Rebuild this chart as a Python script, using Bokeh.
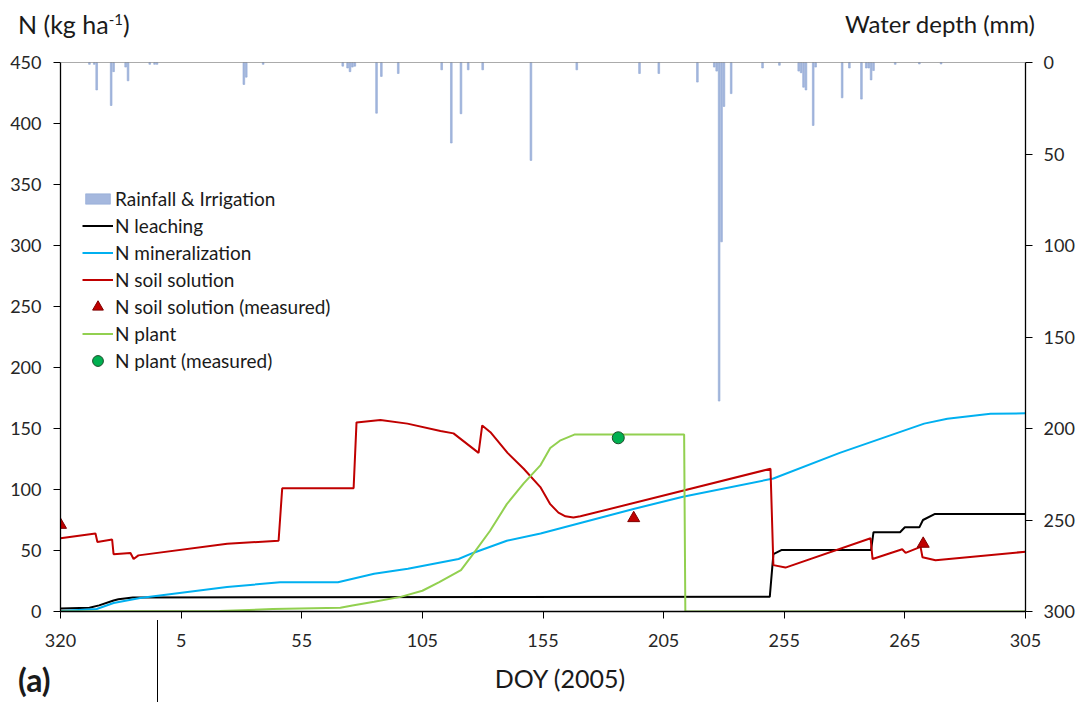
from bokeh.plotting import figure
from bokeh.layouts import column
from bokeh.models import Range1d, LinearAxis, FixedTicker, Legend, LegendItem, Span, Div
from bokeh.embed import file_html
from bokeh.resources import INLINE

FONT = "Lato"

# x axis: day index counted from DOY 320 (2004)
tick_pos = [0, 50, 100, 150, 200, 250, 300, 350, 400]
tick_labels = ["320", "5", "55", "105", "155", "205", "255", "265", "305"]
n_ticks = [0, 50, 100, 150, 200, 250, 300, 350, 400, 450]
depth_ticks = [0, 50, 100, 150, 200, 250, 300]

# Rainfall & Irrigation (mm)
rain_day = [12, 14, 15, 21, 22, 27, 28, 37, 39, 40, 76, 77, 84, 117, 119, 120, 121, 122,
            131, 133, 140, 158, 162, 166, 169, 175, 195, 214, 240, 248, 264, 271, 272,
            273, 274, 275, 278, 291, 298, 306, 307, 308, 309, 312, 313, 324, 327, 332,
            334, 335, 336, 337, 346, 356, 365]
rain_mm = [1, 1, 15, 23.5, 5, 2.5, 10, 1, 1, 1, 12, 8, 1, 2, 3, 5, 2.5, 2,
           27.7, 7.6, 6, 4, 44, 28, 4, 4, 53.5, 4, 6, 6, 10.7, 2.5, 4.7,
           185, 98, 24, 17, 3, 1.5, 4.7, 5.6, 13.5, 15, 34.4, 2.5, 19.3, 3, 20,
           3, 3, 9.5, 4.4, 1, 0.8, 0.8]

# N leaching
leach_day = [0, 12, 16, 22, 24, 30, 294, 295.5, 299, 336, 337, 348, 350, 356, 357.5, 362.5, 400]
leach_n = [2.5, 3, 5, 9, 10, 11.5, 12, 47, 50.5, 50.5, 65, 65, 69, 69, 75, 80, 80]

# N mineralization
mineral_day = [0, 15, 22, 33, 69, 91, 115, 130, 144, 165, 171, 185, 199, 237.5, 258, 295.5,
               323, 358, 367.6, 385.5, 400]
mineral_n = [0.5, 2, 7, 11, 20, 24, 24, 31, 35, 43, 48, 58, 64, 84, 94, 109,
             130, 154, 158, 162, 162.5]

# N soil solution
soil_day = [0, 14.5, 15.3, 21.4, 22, 29, 30.3, 32.3, 69.1, 90.4, 91.9, 121.5, 122.7, 132.6,
            143.8, 157.5, 162.9, 173.3, 174.8, 178.2, 185.3, 192, 198.9, 203, 206.4, 209.3,
            212.6, 215.5, 294.3, 295.5, 300.5, 335.8, 336.6, 348.9, 350.3, 356.5, 357.3,
            362.7, 400]
soil_n = [60, 64, 57, 59, 47, 48, 43, 46, 55.5, 58, 101, 101, 155, 157,
          154, 148, 146, 130, 152.5, 147, 130, 117, 102, 88, 81, 78,
          77, 78, 117, 38, 36, 60, 43, 51, 48, 53, 44.5,
          42, 49]
soil_meas_day = [0, 237.6, 357.6]
soil_meas_n = [71, 76.5, 55.5]

# N plant
plant_day = [0, 66, 88, 116, 121, 130, 141, 150, 157, 166, 171, 178, 185, 192, 199, 203,
             207, 213, 258.5, 259, 400]
plant_n = [0, 0.5, 2, 3, 5, 8, 12, 17, 24, 34, 47, 66, 88, 105, 120, 134,
           140, 145, 145, 0, 0]
plant_meas_day = [231.2]
plant_meas_n = [142.4]

p = figure(width=1079, height=609, x_range=Range1d(0, 400), y_range=Range1d(0, 450),
           output_backend="svg", toolbar_location=None,
           min_border_left=60, min_border_right=54, min_border_top=14, min_border_bottom=46)
p.extra_y_ranges = {"rain": Range1d(300, 0)}
p.grid.visible = False
p.outline_line_color = None
p.background_fill_color = "white"

def style_axis(ax):
    ax.axis_line_color = "black"
    ax.axis_line_width = 1.3
    ax.major_tick_line_color = "black"
    ax.major_tick_in = 0
    ax.major_tick_out = 7
    ax.minor_tick_line_color = None
    ax.major_label_text_font = FONT
    ax.major_label_text_font_size = "18px"
    ax.major_label_text_color = "#262626"

xa = p.xaxis[0]
xa.ticker = FixedTicker(ticks=tick_pos)
xa.major_label_overrides = {t: l for t, l in zip(tick_pos, tick_labels)}
style_axis(xa)
xa.major_label_standoff = 15

ya = p.yaxis[0]
ya.ticker = FixedTicker(ticks=n_ticks)
style_axis(ya)
ya.major_label_standoff = 12

ra = LinearAxis(y_range_name="rain", ticker=FixedTicker(ticks=depth_ticks))
style_axis(ra)
ra.major_label_standoff = 11
p.add_layout(ra, "right")

p.add_layout(Span(location=450, dimension="width", line_color="#595959", line_width=1.2))

rain_r = p.vbar(x=rain_day, top=rain_mm, bottom=0, width=0.7, y_range_name="rain",
                fill_color="#A5B8DE", line_color="#8FA6D3", line_width=0.6)
leach_r = p.line(leach_day, leach_n, line_color="black", line_width=2)
min_r = p.line(mineral_day, mineral_n, line_color="#00B0F0", line_width=2)
soil_r = p.line(soil_day, soil_n, line_color="#C00000", line_width=2)
plant_r = p.line(plant_day, plant_n, line_color="#92D050", line_width=2)
soil_m = p.scatter(soil_meas_day, soil_meas_n, marker="triangle", size=12,
                   fill_color="#C00000", line_color="#7F0000")
plant_m = p.scatter(plant_meas_day, plant_meas_n, marker="circle", size=12,
                    fill_color="#00B050", line_color="#1E4D2B")

leg_kw = dict(glyph_width=31, padding=0, margin=0, label_standoff=2, spacing=0,
              border_line_color=None, background_fill_alpha=0, label_text_font=FONT,
              label_text_font_size="19px", label_text_color="#1a1a1a")
legend_rain = Legend(items=[LegendItem(label="Rainfall & Irrigation", renderers=[rain_r])],
                     location=(22, 399), glyph_height=13, label_height=27, **leg_kw)
legend_n = Legend(items=[
    LegendItem(label="N leaching", renderers=[leach_r]),
    LegendItem(label="N mineralization", renderers=[min_r]),
    LegendItem(label="N soil solution", renderers=[soil_r]),
    LegendItem(label="N soil solution (measured)", renderers=[soil_m]),
    LegendItem(label="N plant", renderers=[plant_r]),
    LegendItem(label="N plant (measured)", renderers=[plant_m]),
], location=(22, 237), glyph_height=27, label_height=27, **leg_kw)
p.add_layout(legend_rain)
p.add_layout(legend_n)

txt = "font-family:Lato;color:#1a1a1a;position:absolute;white-space:nowrap;"
top = Div(width=1079, height=48, margin=0, text=(
    '<div style="position:relative;width:1079px;height:48px;">'
    f'<span style="{txt}left:18px;top:9px;font-size:25px;line-height:30px;">'
    'N (kg ha<span style="position:relative;top:-9px;font-size:15px;">-1</span>)</span>'
    f'<span style="{txt}right:44px;top:9px;font-size:24px;line-height:30px;">'
    'Water depth (mm)</span></div>'))
bottom = Div(width=1079, height=45, margin=0, text=(
    '<div style="position:relative;width:1079px;height:45px;">'
    '<div style="position:absolute;left:157px;top:-37px;width:0;height:82px;'
    'border-left:1px solid #000;"></div>'
    f'<span style="{txt}left:18px;top:4px;font-size:32px;font-weight:bold;line-height:38px;">(a)</span>'
    f'<span style="{txt}left:560px;top:6px;font-size:25px;line-height:30px;'
    'transform:translateX(-50%);">DOY (2005)</span></div>'))

layout = column(top, p, bottom, spacing=0)
open("out.html", "w").write(file_html(layout, INLINE))
